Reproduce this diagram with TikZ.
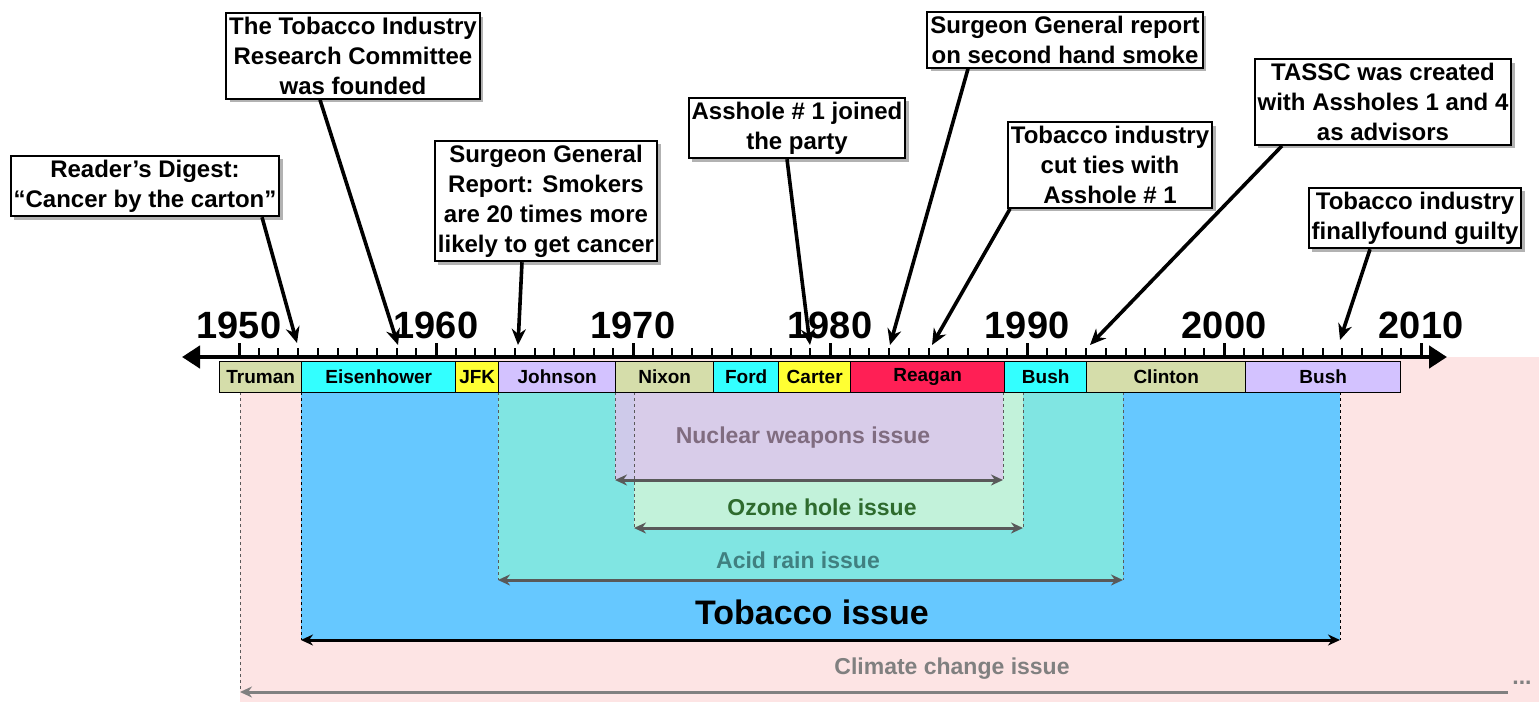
\documentclass[tikz,border=0pt]{standalone}
\usepackage{fontspec}
\setmainfont{Liberation Sans}
\usetikzlibrary{arrows.meta,shadows,positioning}

\definecolor{climatepink}{HTML}{FDE4E4}
\definecolor{tobaccoblue}{HTML}{66C8FF}
\definecolor{acidcyan}{HTML}{80E5E2}
\definecolor{ozonegreen}{HTML}{C2F2DA}
\definecolor{nuclearlilac}{HTML}{DCC6EC}
\definecolor{trumangreen}{HTML}{D5DDAA}
\definecolor{termcyan}{HTML}{33FFFF}
\definecolor{termyellow}{HTML}{FFFF33}
\definecolor{termlilac}{HTML}{D3C2FF}
\definecolor{reaganred}{HTML}{FF1F55}

\tikzset{
  callout/.style={draw, line width=2pt, fill=white, align=center, inner xsep=3pt, inner ysep=4pt,
    font=\fontsize{24}{30}\selectfont\bfseries,
    general shadow={fill=gray!60, shadow xshift=3.5pt, shadow yshift=-3.5pt}},
  pointer/.style={line width=3.6pt, -{Stealth[length=16pt,width=14pt]}},
  term/.style={draw, line width=1.4pt, anchor=north west, inner sep=0pt, minimum height=31pt,
    font=\fontsize{19}{20}\selectfont\bfseries},
  span/.style={line width=3pt, {Stealth[length=12pt,width=11pt]}-{Stealth[length=12pt,width=11pt]}},
  edge/.style={dashed, line width=1pt, gray!70!black},
  issue/.style={font=\fontsize{23}{25}\selectfont\bfseries}
}

\begin{document}
\begin{tikzpicture}[x=1pt,y=-1pt]
\useasboundingbox (0,0) rectangle (1539,702);

% issue regions
\fill[climatepink] (240,357) rectangle (1539,702);
\fill[tobaccoblue] (301,392) rectangle (1340,640);
\fill[acidcyan] (498,392) rectangle (1123,580);
\fill[ozonegreen] (634,392) rectangle (1023,528);
\fill[nuclearlilac, opacity=0.85] (615,392) rectangle (1003,480);
\draw[edge] (240,392) -- (240,690);
\draw[edge, black] (301,392) -- (301,640);
\draw[edge, black] (1340,392) -- (1340,640);
\draw[edge] (498,392) -- (498,580);
\draw[edge] (1123,392) -- (1123,580);
\draw[edge] (634,392) -- (634,528);
\draw[edge] (1023,392) -- (1023,528);
\draw[edge] (615,392) -- (615,480);
\draw[edge] (1003,392) -- (1003,480);

% issue labels and spans
\node[issue, text=gray!85!violet] (nuc) at (803,438) {Nuclear weapons issue};
\draw[span, gray!70!black] (615,480) -- (1003,480);
\node[issue, text=gray!60!green!60!black] (ozo) at (822,507) {Ozone hole issue};
\draw[span, gray!70!black] (634,528) -- (1023,528);
\node[issue, text=gray!50!teal] (acid) at (798,560) {Acid rain issue};
\draw[span, gray!70!black] (498,580) -- (1123,580);
\node[font=\fontsize{34}{36}\selectfont\bfseries] (tob) at (812,612) {Tobacco issue};
\draw[span, black] (301,640) -- (1340,640);
\node[issue, text=gray] (clim) at (952,669) {Climate change issue};
\draw[line width=3pt, gray, {Stealth[length=12pt,width=11pt]}-] (240,692) -- (1508,692);
\node[issue, text=gray] (dots) at (1522,683) {...};

% presidential terms
\foreach \a/\b/\who/\col in {219/301/Truman/trumangreen, 301/455/Eisenhower/termcyan,
    455/498/JFK/termyellow, 498/615/Johnson/termlilac, 615/713/Nixon/trumangreen,
    713/778/Ford/termcyan, 778/850/Carter/termyellow, 850/1004/Reagan/reaganred,
    1004/1086/Bush/termcyan, 1086/1245/Clinton/trumangreen, 1245/1400/Bush/termlilac}
  \node[term, fill=\col, minimum width={(\b-\a)*1pt}] (t\a) at (\a,361) {\who};

% time axis
\draw[line width=4.5pt, {Triangle[length=18pt,width=22pt]}-{Triangle[length=18pt,width=22pt]}] (182,357) -- (1447,357);
\foreach \i in {0,...,59}
  \draw[line width=2pt] ({239+19.7*\i},357) -- ({239+19.7*\i},348);
\foreach \i/\yr in {0/1950,10/1960,20/1970,30/1980,40/1990,50/2000,60/2010} {
  \draw[line width=3pt] ({239+19.7*\i},357) -- ({239+19.7*\i},343);
  \node[font=\fontsize{38}{40}\selectfont\bfseries] (y\yr) at ({239+19.7*\i},325) {\yr};
}

% callouts
\node[callout] (digest) at (145,186) {Reader’s Digest:\\“Cancer by the carton”};
\node[callout] (tirc) at (353,56) {The Tobacco Industry\\Research Committee\\was founded};
\node[callout] (sgr) at (546,201) {Surgeon General\\Report: Smokers\\are 20 times more\\likely to get cancer};
\node[callout] (joined) at (797,128) {Asshole \# 1 joined\\the party};
\node[callout] (second) at (1065,40) {Surgeon General report\\on second hand smoke};
\node[callout] (cut) at (1110,165) {Tobacco industry\\cut ties with\\Asshole \# 1};
\node[callout] (tassc) at (1383,102) {TASSC was created\\with Assholes 1 and 4\\as advisors};
\node[callout] (guilty) at (1415,218) {Tobacco industry\\finallyfound guilty};

\coordinate (p1) at (297,343); \coordinate (p2) at (398,345);
\coordinate (p3) at (518,345); \coordinate (p4) at (810,345);
\coordinate (p5) at (890,345); \coordinate (p6) at (932,345);
\coordinate (p7) at (1090,345); \coordinate (p8) at (1340,340);

\draw[pointer] (digest.south -| 262,0) -- (p1);
\draw[pointer] (tirc.south -| 320,0) -- (p2);
\draw[pointer] (sgr.south -| 522,0) -- (p3);
\draw[pointer] (joined.south -| 787,0) -- (p4);
\draw[pointer] (second.south -| 968,0) -- (p5);
\draw[pointer] (cut.south -| 1010,0) -- (p6);
\draw[pointer] (tassc.south -| 1282,0) -- (p7);
\draw[pointer] (guilty.south -| 1370,0) -- (p8);
\end{tikzpicture}
\end{document}
